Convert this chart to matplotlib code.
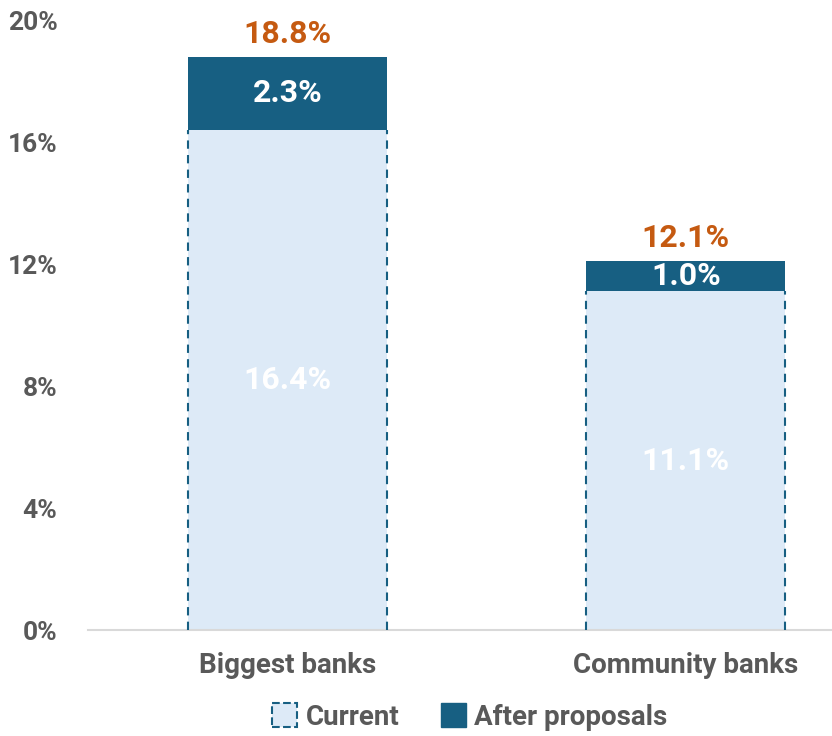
import matplotlib.pyplot as plt
from matplotlib.patches import Patch

categories = ['Biggest banks', 'Community banks']
current = [16.4, 11.1]
increase = [2.3, 1.0]
total = [18.8, 12.1]
yticks = [0, 4, 8, 12, 16, 20]

dark = '#175f82'
light = '#ddeaf7'
orange = '#c55a11'
grey = '#595959'
font = 'Roboto'

fig = plt.figure(figsize=(8.32, 7.36), dpi=100)
ax = fig.add_axes([88/832, 106/736, 744/832, 610/736])

x = range(len(categories))
after_h = [t - c for t, c in zip(total, current)]
b1 = ax.bar(x, current, width=0.5, color=light, zorder=2)
b2 = ax.bar(x, after_h, bottom=current, width=0.5, color=dark, zorder=3)

# dashed sides on the current bars
for p in b1:
    for xe in (p.get_x(), p.get_x() + p.get_width()):
        ax.plot([xe, xe], [0, p.get_height()], color=dark, ls=(0, (4, 3)), lw=1.5, zorder=4)

for i in x:
    ax.text(i, current[i] / 2, f'{current[i]:.1f}%', ha='center', va='center',
            color='white', fontsize=23, fontweight='bold', family=font, zorder=5)
    ax.text(i, current[i] + after_h[i] / 2, f'{increase[i]:.1f}%', ha='center', va='center',
            color='white', fontsize=23, fontweight='bold', family=font, zorder=5)
    ax.text(i, total[i] + 0.25, f'{total[i]:.1f}%', ha='center', va='bottom',
            color=orange, fontsize=23, fontweight='bold', family=font, zorder=5)

ax.set_xlim(-0.5, 1.367)
ax.set_ylim(0, 20)
ax.set_yticks(yticks)
ax.set_yticklabels([f'{v}%' for v in yticks], fontsize=19, fontweight='bold', family=font, color=grey)
ax.set_xticks(list(x))
ax.set_xticklabels(categories, fontsize=20, fontweight='bold', family=font, color=grey)
ax.tick_params(length=0)
ax.tick_params(axis='y', pad=22)
ax.tick_params(axis='x', pad=16)
for s in ['top', 'right', 'left']:
    ax.spines[s].set_visible(False)
ax.spines['bottom'].set_color('#d9d9d9')
ax.spines['bottom'].set_linewidth(1.5)

handles = [Patch(facecolor=light, edgecolor=dark, ls='--', lw=1.5, label='Current'),
           Patch(facecolor=dark, edgecolor=dark, label='After proposals')]
leg = fig.legend(handles=handles, loc='center', bbox_to_anchor=(0.565, 19/736), ncol=2,
                 frameon=False, handlelength=0.9, handleheight=0.9, handletextpad=0.3,
                 columnspacing=1.5, prop={'family': font, 'weight': 'bold', 'size': 20})
for t in leg.get_texts():
    t.set_color(grey)

fig.savefig('out.png', dpi=100)
